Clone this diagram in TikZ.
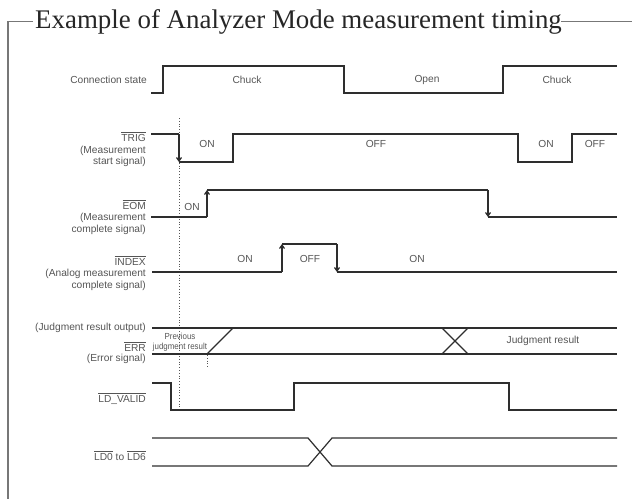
\documentclass[tikz,border=0pt]{standalone}
\usepackage{fontspec}
\setmainfont{Liberation Serif}
\newfontfamily\lblfont{Liberation Sans}
\usetikzlibrary{arrows.meta}
\newcommand\ovl[1]{\leavevmode\vbox{\hrule height 0.7pt\kern1.4pt\hbox{#1}}}
\definecolor{sigc}{HTML}{2E2E2E}
\definecolor{txtc}{HTML}{555555}
\definecolor{frmc}{HTML}{777777}
\begin{document}
\begin{tikzpicture}[x=1pt,y=-1pt,
  wave/.style={draw=sigc, line width=1.2pt, line join=miter},
  edgearr/.style={wave, -{Straight Barb[length=3.5pt,width=5pt]}},
  framel/.style={draw=frmc, line width=1.4pt},
  lbl/.style={font=\lblfont\fontsize{10.2}{11.5}\selectfont, text=txtc, inner sep=0pt},
  rlbl/.style={lbl, anchor=east, align=right},
  small/.style={font=\lblfont\fontsize{8.8}{10}\selectfont, text=txtc, inner sep=0pt, xscale=0.9},
  guide/.style={draw=txtc, line width=0.8pt, dotted}]
\useasboundingbox (0,0) rectangle (632,499);

% title and frame
\node[anchor=base west, font=\fontsize{26.9}{31}\selectfont, text=black!85, inner sep=0pt] (title) at (35,28) {Example of Analyzer Mode measurement timing};
\draw[framel] (33,21.5) -- (8,21.5) -- (8,499);
\draw[framel] (561,21.5) -- (632,21.5);

% row labels
\node[rlbl] (lconn) at (147,80) {Connection state};
\node[rlbl] (ltrig) at (146,149.5) {\ovl{TRIG}\\(Measurement\\start signal)};
\node[rlbl] (leom) at (146,217) {\ovl{EOM}\\(Measurement\\complete signal)};
\node[rlbl] (lindex) at (146,273) {\ovl{INDEX}\\(Analog measurement\\complete signal)};
\node[rlbl] (ljudge) at (146,328) {(Judgment result output)};
\node[rlbl] (lerr) at (146,347) {\ovl{ERR}};
\node[rlbl] (lerrs) at (146,359) {(Error signal)};
\node[rlbl] (lvalid) at (146,399) {\ovl{LD\_VALID}};
\node[rlbl] (lld) at (146,456) {\ovl{LD0} to \ovl{LD6}};

% guide line
\coordinate (gtop) at (179,118);
\coordinate (gbot) at (179,410);
\draw[guide] (gtop) -- (gbot);

% connection state
\draw[wave] (151,93) -- (163,93) -- (163,66) -- (344,66) -- (344,93) -- (503,93) -- (503,66) -- (617,66);
\node[lbl] (c1) at (247,80) {Chuck};
\node[lbl] (c2) at (427,80) {Open};
\node[lbl] (c3) at (557,80) {Chuck};

% TRIG
\coordinate (t1) at (179,134);
\coordinate (t2) at (179,162);
\draw[wave] (151,134) -- (t1);
\draw[edgearr] (t1) -- (t2);
\draw[wave] (t2) -- (233,162) -- (233,134) -- (518,134) -- (518,162) -- (572,162) -- (572,134) -- (617,134);
\node[lbl] (t_on1) at (207,144) {ON};
\node[lbl] (t_off1) at (376,144) {OFF};
\node[lbl] (t_on2) at (546,144) {ON};
\node[lbl] (t_off2) at (595,144) {OFF};

% EOM
\coordinate (e1) at (207,217);
\coordinate (e2) at (207,190);
\coordinate (e3) at (488,190);
\coordinate (e4) at (488,217);
\draw[wave] (151,217) -- (e1);
\draw[edgearr] (e1) -- (e2);
\draw[wave] (e2) -- (e3);
\draw[edgearr] (e3) -- (e4);
\draw[wave] (e4) -- (617,217);
\node[lbl] (e_on) at (192,207) {ON};

% INDEX
\coordinate (i1) at (282,272);
\coordinate (i2) at (282,244);
\coordinate (i3) at (337,244);
\coordinate (i4) at (337,272);
\draw[wave] (152,272) -- (i1);
\draw[edgearr] (i1) -- (i2);
\draw[wave] (i2) -- (i3);
\draw[edgearr] (i3) -- (i4);
\draw[wave] (i4) -- (617,272);
\node[lbl] (i_on1) at (245,259) {ON};
\node[lbl] (i_off) at (310,259) {OFF};
\node[lbl] (i_on2) at (417,259) {ON};

% judgment result / ERR
\draw[wave] (152,328) -- (617,328);
\draw[wave] (152,354) -- (617,354);
\draw[wave] (207,354) -- (233,328);
\draw[wave] (442,328) -- (468,354);
\draw[wave] (442,354) -- (468,328);
\draw[guide] (207,355) -- (207,368);
\node[small] (prev1) at (180,336) {Previous};
\node[small] (prev2) at (180,347) {judgment result};
\node[lbl] (jres) at (543,341) {Judgment result};

% LD_VALID
\draw[wave] (152,383) -- (171,383) -- (171,410) -- (294,410) -- (294,383) -- (509,383) -- (509,410) -- (617,410);

% LD0 to LD6
\draw[wave] (152,438) -- (308,438) -- (332,466) -- (617,466);
\draw[wave] (152,466) -- (308,466) -- (332,438) -- (617,438);
\end{tikzpicture}
\end{document}
